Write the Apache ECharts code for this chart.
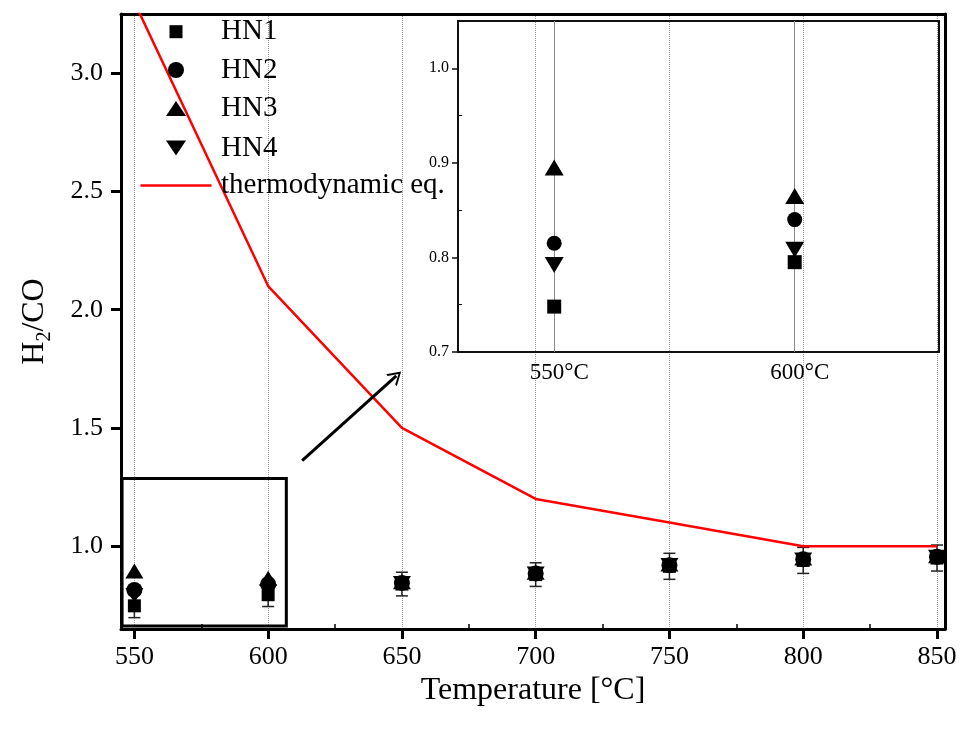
<!DOCTYPE html>
<html>
<head>
<meta charset="utf-8">
<script src="https://cdn.jsdelivr.net/npm/echarts@6/dist/echarts.min.js"></script>
<style>
  html, body { margin: 0; padding: 0; background: #fff; }
  #chart { width: 961px; height: 736px; }
</style>
</head>
<body>
<div id="chart"></div>
<script>
// Reaction temperature (°C) and measured H2/CO ratios per catalyst
const temps = [550, 600, 650, 700, 750, 800, 850];
const hn1 = [0.748, 0.795, 0.840, 0.880, 0.915, 0.940, 0.950];
const hn2 = [0.815, 0.840, 0.845, 0.885, 0.920, 0.945, 0.955];
const hn3 = [0.895, 0.865, 0.850, 0.890, 0.925, 0.950, 0.960];
const hn4 = [0.792, 0.808, 0.842, 0.882, 0.918, 0.942, 0.953];
const hn1Err = [0.05, 0.05, 0.05, 0.05, 0.055, 0.055, 0.055];
// Equilibrium H2/CO from thermodynamics
const eqRatio = [3.3, 2.1, 1.5, 1.2, 1.1, 1.0, 1.0];

// Axis ticks
const xTicks = [550, 600, 650, 700, 750, 800, 850];
const xMinorTicks = [575, 625, 675, 725, 775, 825];
const yTicks = [1.0, 1.5, 2.0, 2.5, 3.0];
const insetTemps = [550, 600];
const insetYTicks = [0.7, 0.8, 0.9, 1.0];
const insetYMinor = [0.75, 0.85, 0.95];

// Zoom box around the low-temperature points, and the arrow to the inset
const zoomBox = [[545.4, 1.286], [606.8, 0.663]];
const arrowPath = [[612.7, 1.362], [647.9, 1.72]];

const FONT = '"Liberation Serif", "Times New Roman", serif';
const DOWN_TRIANGLE = 'path://M0,0 L20,0 L10,15 Z';

const seriesDefs = [
  { name: 'HN1', values: hn1, symbol: 'rect', size: 13, insetSize: 14, rotate: 0 },
  { name: 'HN2', values: hn2, symbol: 'circle', size: 16, insetSize: 15, rotate: 0 },
  { name: 'HN3', values: hn3, symbol: 'triangle', size: [18, 15], insetSize: [19, 16], rotate: 0 },
  { name: 'HN4', values: hn4, symbol: 'triangle', size: [18, 15], insetSize: [19, 16], rotate: 180 }
];

const chart = echarts.init(document.getElementById('chart'), null, { renderer: 'canvas' });

const series = [];

// error bars (HN1) + dotted vertical grid + zoom box
series.push({
  type: 'custom',
  name: 'err',
  xAxisIndex: 0,
  yAxisIndex: 0,
  z: 1,
  silent: true,
  data: temps.map((t, i) => [t, hn1[i] - hn1Err[i], hn1[i] + hn1Err[i]]),
  encode: { x: 0, y: [1, 2] },
  renderItem: function (params, api) {
    const x = api.value(0);
    const lo = api.coord([x, api.value(1)]);
    const hi = api.coord([x, api.value(2)]);
    const w = 6;
    const st = { stroke: '#222', lineWidth: 1.5 };
    return {
      type: 'group',
      children: [
        { type: 'line', shape: { x1: lo[0], y1: lo[1], x2: hi[0], y2: hi[1] }, style: st },
        { type: 'line', shape: { x1: lo[0] - w, y1: lo[1], x2: lo[0] + w, y2: lo[1] }, style: st },
        { type: 'line', shape: { x1: hi[0] - w, y1: hi[1], x2: hi[0] + w, y2: hi[1] }, style: st }
      ]
    };
  },
  markLine: {
    silent: true,
    z: 0,
    symbol: ['none', 'none'],
    label: { show: false },
    lineStyle: { type: 'dotted', color: '#9a9a9a', width: 1 },
    data: xTicks.map(v => ({ xAxis: v }))
  },
  markArea: {
    silent: true,
    z: 1,
    itemStyle: { color: 'rgba(0,0,0,0)', borderColor: '#000', borderWidth: 3 },
    data: [[{ xAxis: zoomBox[0][0], yAxis: zoomBox[0][1] }, { xAxis: zoomBox[1][0], yAxis: zoomBox[1][1] }]]
  }
});

// thermodynamic equilibrium line
series.push({
  type: 'line',
  name: 'thermodynamic eq.',
  xAxisIndex: 0,
  yAxisIndex: 0,
  z: 2,
  symbol: 'none',
  showSymbol: false,
  clip: true,
  lineStyle: { color: '#ff0000', width: 2.5 },
  itemStyle: { color: '#ff0000' },
  data: temps.map((t, i) => [t, eqRatio[i]]),
  markLine: {
    silent: true,
    z: 6,
    symbol: ['none', 'none'],
    label: { show: false },
    data: [[
      { coord: arrowPath[0], symbol: 'none' },
      {
        coord: arrowPath[1],
        symbol: 'path://M0,12 L6,0 L12,12 L10.2,12 L6,3.2 L1.8,12 Z',
        symbolSize: [16, 13]
      }
    ]],
    lineStyle: { color: '#000', width: 3, type: 'solid' }
  }
});

// main scatter series
seriesDefs.forEach(d => {
  series.push({
    type: 'scatter',
    name: d.name,
    xAxisIndex: 0,
    yAxisIndex: 0,
    z: 3,
    symbol: d.symbol,
    symbolSize: d.size,
    symbolRotate: d.rotate,
    itemStyle: { color: '#000', opacity: 1 },
    data: temps.map((t, i) => [t, d.values[i]])
  });
});

// inset scatter series
seriesDefs.forEach((d, k) => {
  const s = {
    type: 'scatter',
    name: d.name,
    xAxisIndex: 3,
    yAxisIndex: 2,
    z: 3,
    symbol: d.symbol,
    symbolSize: d.insetSize,
    symbolRotate: d.rotate,
    itemStyle: { color: '#000', opacity: 1 },
    data: insetTemps.map(t => [t, d.values[temps.indexOf(t)]])
  };
  if (k === 0) {
    s.markLine = {
      silent: true,
      z: 1,
      symbol: ['none', 'none'],
      label: { show: false },
      lineStyle: { type: 'solid', color: '#8a8a8a', width: 1 },
      data: insetTemps.map(v => ({ xAxis: v }))
    };
  }
  series.push(s);
});

// one legend block per row so each icon keeps its own size
const legendRows = [
  { name: 'HN1', icon: 'rect', center: 31.7, left: 169.5, w: 13, h: 13, pad: 33.5 },
  { name: 'HN2', icon: 'circle', center: 70, left: 168, w: 16, h: 16, pad: 32 },
  { name: 'HN3', icon: 'triangle', center: 108.5, left: 166, w: 20, h: 15, pad: 30 },
  { name: 'HN4', icon: DOWN_TRIANGLE, center: 148, left: 166, w: 20, h: 15, pad: 30 },
  { name: 'thermodynamic eq.', icon: 'rect', center: 185.5, left: 140.5, w: 71, h: 2.5, pad: 4.5 }
];
const legends = legendRows.map(r => ({
  orient: 'vertical',
  left: r.left,
  top: r.center - 14.5,
  padding: 0,
  itemGap: 0,
  itemWidth: r.w,
  itemHeight: r.h,
  selectedMode: false,
  symbolKeepAspect: false,
  data: [{ name: r.name, icon: r.icon }],
  itemStyle: { opacity: 1 },
  textStyle: { fontSize: 29, fontFamily: FONT, color: '#000', lineHeight: 29, padding: [0, 0, 0, r.pad] }
}));

const mainAxisLine = { show: true, onZero: false, lineStyle: { color: '#000', width: 3 } };
const insetAxisLine = { show: true, onZero: false, lineStyle: { color: '#111', width: 2 } };

const option = {
  animation: false,
  backgroundColor: '#fff',
  legend: legends,
  grid: [
    { left: 121, top: 14, right: 16, bottom: 107 },
    { left: 458, top: 21, right: 22, bottom: 384 }
  ],
  xAxis: [
    {
      gridIndex: 0, type: 'value', min: 545, max: 853, position: 'bottom',
      axisLine: mainAxisLine,
      axisTick: { show: true, customValues: xTicks, length: 10, lineStyle: { color: '#000', width: 3 } },
      axisLabel: { customValues: xTicks, fontSize: 26, fontFamily: FONT, color: '#000', margin: 15 },
      splitLine: { show: false },
      name: 'Temperature [°C]', nameLocation: 'middle', nameGap: 46,
      nameTextStyle: { fontSize: 32, fontFamily: FONT, color: '#000' }
    },
    {
      gridIndex: 0, type: 'value', min: 545, max: 853, position: 'bottom',
      axisLine: { show: false },
      axisTick: { show: true, inside: true, customValues: xMinorTicks, length: 5, lineStyle: { color: '#000', width: 1.5 } },
      axisLabel: { show: false },
      splitLine: { show: false }
    },
    {
      gridIndex: 0, type: 'value', min: 545, max: 853, position: 'top',
      axisLine: mainAxisLine,
      axisTick: { show: false }, axisLabel: { show: false }, splitLine: { show: false }
    },
    {
      gridIndex: 1, type: 'value', min: 530, max: 630, position: 'bottom',
      axisLine: insetAxisLine,
      axisTick: { show: false },
      axisLabel: {
        customValues: insetTemps, fontSize: 23, fontFamily: FONT, color: '#000', margin: 9,
        padding: [0, 0, 0, 10],
        formatter: v => v + '°C'
      },
      splitLine: { show: false }
    },
    {
      gridIndex: 1, type: 'value', min: 530, max: 630, position: 'top',
      axisLine: insetAxisLine,
      axisTick: { show: false }, axisLabel: { show: false }, splitLine: { show: false }
    }
  ],
  yAxis: [
    {
      gridIndex: 0, type: 'value', min: 0.65, max: 3.25, position: 'left',
      axisLine: mainAxisLine,
      axisTick: { show: true, customValues: yTicks, length: 10, lineStyle: { color: '#000', width: 3 } },
      axisLabel: {
        customValues: yTicks, fontSize: 26, fontFamily: FONT, color: '#000', margin: 18,
        formatter: v => v.toFixed(1)
      },
      splitLine: { show: false },
      name: '{a|H}{s|2}{a|/CO}', nameLocation: 'middle', nameGap: 66, nameRotate: 90,
      nameTextStyle: {
        color: '#000', fontFamily: FONT, fontSize: 32,
        rich: {
          a: { fontSize: 32, fontFamily: FONT, color: '#000', lineHeight: 40 },
          s: { fontSize: 20, fontFamily: FONT, color: '#000', lineHeight: 20, verticalAlign: 'bottom' }
        }
      }
    },
    {
      gridIndex: 0, type: 'value', min: 0.65, max: 3.25, position: 'right',
      axisLine: mainAxisLine,
      axisTick: { show: false }, axisLabel: { show: false }, splitLine: { show: false }
    },
    {
      gridIndex: 1, type: 'value', min: 0.7, max: 1.05, position: 'left',
      axisLine: insetAxisLine,
      axisTick: { show: true, customValues: insetYTicks, length: 6, lineStyle: { color: '#111', width: 1.5 } },
      axisLabel: {
        customValues: insetYTicks, fontSize: 16, fontFamily: FONT, color: '#000', margin: 9,
        formatter: v => v.toFixed(1)
      },
      splitLine: { show: false }
    },
    {
      gridIndex: 1, type: 'value', min: 0.7, max: 1.05, position: 'right',
      axisLine: insetAxisLine,
      axisTick: { show: false }, axisLabel: { show: false }, splitLine: { show: false }
    },
    {
      gridIndex: 1, type: 'value', min: 0.7, max: 1.05, position: 'left',
      axisLine: { show: false },
      axisTick: { show: true, inside: true, customValues: insetYMinor, length: 4, lineStyle: { color: '#111', width: 1 } },
      axisLabel: { show: false }, splitLine: { show: false }
    }
  ],
  series: series
};

chart.setOption(option);
</script>
</body>
</html>
